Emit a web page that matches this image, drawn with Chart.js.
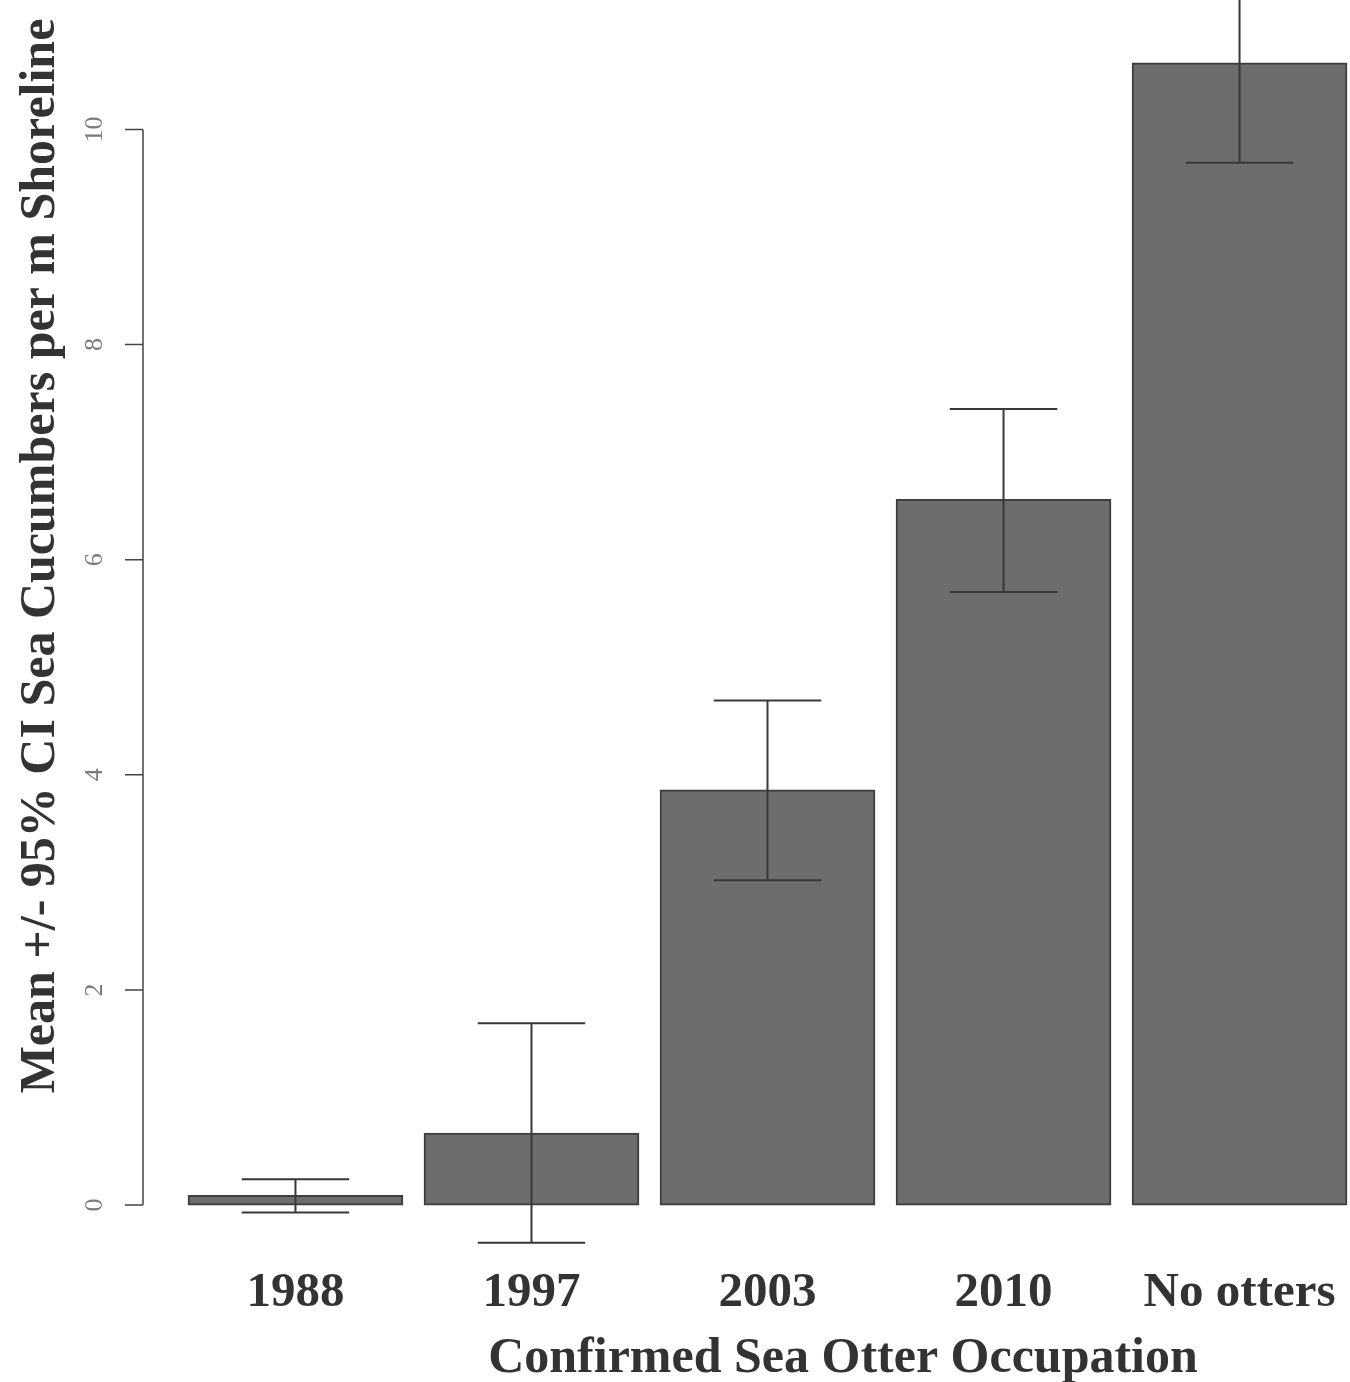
<!DOCTYPE html>
<html>
<head>
<meta charset="utf-8">
<title>Sea cucumbers vs sea otter occupation</title>
<script src="https://cdn.jsdelivr.net/npm/chart.js@4.4.1/dist/chart.umd.min.js"></script>
<style>
  html, body { margin: 0; padding: 0; background: #fff; }
  #wrap { width: 1350px; height: 1382px; }
</style>
</head>
<body>
<div id="wrap"><canvas id="chart" width="1350" height="1382"></canvas></div>
<script>
// categories and values
const categories = ['1988', '1997', '2003', '2010', 'No otters']
const means = [0.09, 0.67, 3.86, 6.56, 10.62]
const ciLow = [-0.07, -0.35, 3.02, 5.70, 9.69]
const ciHigh = [0.24, 1.69, 4.69, 7.40, 11.55]
const yTicks = [0, 2, 4, 6, 8, 10]

const yTitle = 'Mean +/- 95% CI Sea Cucumbers per m Shoreline'
const xTitle = 'Confirmed Sea Otter Occupation'

const inkColor = '#333333'
const barFill = '#6d6d6d'
const barEdge = '#3d3d3d'

// R style axis, error bars and axis titles
const rDecor = {
  id: 'rDecor',
  afterDatasetsDraw (chart) {
    const ctx = chart.ctx
    const y = chart.scales.y
    const meta = chart.getDatasetMeta(0)
    ctx.save()
    ctx.strokeStyle = '#383838'
    ctx.lineWidth = 2
    meta.data.forEach((bar, i) => {
      const yHi = y.getPixelForValue(ciHigh[i])
      const yLo = y.getPixelForValue(ciLow[i])
      const half = bar.width / 4
      ctx.beginPath()
      ctx.moveTo(bar.x, yHi)
      ctx.lineTo(bar.x, yLo)
      ctx.moveTo(bar.x - half, yHi)
      ctx.lineTo(bar.x + half, yHi)
      ctx.moveTo(bar.x - half, yLo)
      ctx.lineTo(bar.x + half, yLo)
      ctx.stroke()
    })
    ctx.restore()
  },
  afterDraw (chart) {
    const ctx = chart.ctx
    const y = chart.scales.y
    const axisX = chart.chartArea.left
    ctx.save()
    // axis line spans first to last tick only
    ctx.strokeStyle = '#444'
    ctx.lineWidth = 1.5
    ctx.beginPath()
    ctx.moveTo(axisX, y.getPixelForValue(yTicks[0]))
    ctx.lineTo(axisX, y.getPixelForValue(yTicks[yTicks.length - 1]))
    yTicks.forEach(t => {
      const py = y.getPixelForValue(t)
      ctx.moveTo(axisX, py)
      ctx.lineTo(axisX - 18, py)
    })
    ctx.stroke()

    // rotated tick labels
    ctx.fillStyle = '#7a7a7a'
    ctx.font = '26px "Liberation Serif", serif'
    ctx.textAlign = 'center'
    ctx.textBaseline = 'middle'
    yTicks.forEach(t => {
      ctx.save()
      ctx.translate(95, y.getPixelForValue(t))
      ctx.rotate(-Math.PI / 2)
      ctx.fillText(String(t), 0, 0)
      ctx.restore()
    })

    // y title
    ctx.fillStyle = inkColor
    ctx.font = 'bold 50px "Liberation Serif", serif'
    ctx.textBaseline = 'alphabetic'
    ctx.save()
    ctx.translate(54, 556)
    ctx.rotate(-Math.PI / 2)
    ctx.fillText(yTitle, 0, 0, 1100)
    ctx.restore()

    // x title
    ctx.fillText(xTitle, 843, 1372, 722)
    ctx.restore()
  }
}

new Chart(document.getElementById('chart'), {
  type: 'bar',
  data: {
    datasets: [{
      data: means.map((v, i) => ({ x: i, y: v })),
      backgroundColor: barFill,
      borderColor: barEdge,
      borderWidth: 2,
      borderSkipped: false,
      barThickness: 215
    }]
  },
  options: {
    responsive: false,
    animation: false,
    layout: { padding: 0 },
    plugins: {
      legend: { display: false },
      tooltip: { enabled: false }
    },
    scales: {
      x: {
        type: 'linear',
        offset: false,
        min: -0.646,
        max: 4.468,
        grid: { display: false, drawTicks: false, offset: false },
        border: { display: false },
        afterBuildTicks: (scale) => {
          scale.ticks = categories.map((_, i) => ({ value: i }))
        },
        afterFit: (scale) => { scale.height = 125 },
        ticks: {
          autoSkip: false,
          maxRotation: 0,
          padding: 7,
          color: inkColor,
          font: { family: '"Liberation Serif", serif', size: 49, weight: 'bold' },
          callback: (v) => categories[v]
        }
      },
      y: {
        min: -0.483,
        max: 11.203,
        grid: { display: false },
        border: { display: false },
        ticks: { display: false },
        afterFit: (scale) => { scale.width = 143 }
      }
    }
  },
  plugins: [rDecor]
})
</script>
</body>
</html>
